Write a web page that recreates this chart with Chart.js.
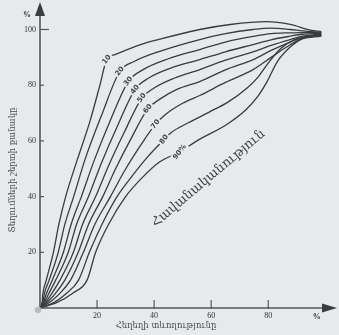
<!DOCTYPE html>
<html>
<head>
<meta charset="utf-8">
<script src="https://cdn.jsdelivr.net/npm/chart.js@4.4.1/dist/chart.umd.min.js"></script>
<style>
html,body{margin:0;padding:0;background:#e7e9eb;}
#wrap{width:339px;height:335px;}
</style>
</head>
<body>
<div id="wrap"><canvas id="c" width="339" height="335"></canvas></div>
<script>
// ---- data ----
const seriesNames = ['10','20','30','40','50','60','70','80','90%'];
const xTicks = [20,40,60,80];
const yTicks = [20,40,60,80,100];

const curve10 = [[0,0],[0.8,2.5],[1,5],[2.2,10],[4.7,20],[6.6,30],[9,40],[13,53],[17.5,67],[21,80],[23.4,89.2],[26.3,91],[35,94.5],[42,96.5],[56,100],[66.7,101.8],[79.6,102.8],[87.7,101.8],[94.7,99.8],[98.6,99.2]];
const curve20 = [[0,0],[1.1,2.5],[1.5,5],[3.2,10],[6.4,20],[8.7,30],[11.8,40],[16,54],[21.5,69],[28,85],[33,88.5],[43,92.5],[56,96.4],[65,98.5],[74.7,100],[81,100.5],[87.7,100],[92,99.5],[98.6,99]];
const curve30 = [[0,0],[1.4,2.5],[2.2,5],[4.3,10],[8.2,20],[10.9,30],[14.5,40],[19,53],[24.5,67],[31,81.4],[36,85.5],[45,89.5],[56,92.8],[65,95.5],[74.7,97.5],[81,98.5],[87.7,98.8],[92,98.9],[98.6,98.8]];
const curve40 = [[0,0],[1.8,2.5],[3,5],[5.5,10],[9.9,20],[12.8,30],[17,40],[21.5,52],[27,65],[33.3,78.4],[38,82.5],[46,86.2],[56,89.2],[65,92],[74.7,94.6],[81,96.3],[87.7,97.6],[92,98.3],[98.6,98.6]];
const curve50 = [[0,0],[2.3,2.5],[4,5],[7,10],[11.7,20],[14.9,30],[19.5,40],[24,51],[29.5,63],[35.7,75.4],[40,79],[47,82.5],[56,85.6],[65,89],[74.7,92],[81,94.3],[87.7,96.4],[92,97.6],[98.6,98.4]];
const curve60 = [[0,0],[3,2.5],[5.2,5],[8.7,10],[13.4,20],[17,30],[22,40],[26.5,50],[31.5,60],[37.8,71.5],[42,75],[48,78.5],[56,81.3],[65,85.5],[74.7,89.2],[81,92.5],[87.7,95.5],[92,97.2],[98.6,98.2]];
const curve70 = [[0,0],[4,2.5],[6.7,5],[10.7,10],[15.2,20],[19.2,30],[24.7,40],[29.5,49],[35,58],[40.5,66],[44,69.5],[50,73.5],[56,76.3],[65,81],[74.7,85.6],[81,90],[87.7,94.5],[92,96.8],[98.6,98]];
const curve80 = [[0,0],[5,2],[9,5],[13.5,10],[17.3,20],[21.7,30],[27,40],[32,47],[37.5,54],[43.5,60.5],[46,63],[52,66.5],[59.6,70.5],[66,74],[72.6,79],[76.5,83],[79.6,87.4],[84.2,93],[89,96.3],[98.6,97.8]];
const curve90 = [[0,0],[6,2],[11.6,5.4],[16.5,10],[19.5,20],[24,30],[30,40],[36,47],[42,52.5],[49,56],[55,60],[65.6,66],[72,71],[76,75.5],[79.6,81.3],[83.2,88.5],[87.5,93.5],[91.2,96.3],[98.6,97.6]];
const curves = [curve10,curve20,curve30,curve40,curve50,curve60,curve70,curve80,curve90];

// label anchor points on each curve (data units)
const labelX = [23.4,28,31,33.3,35.7,37.8,40.5,43.5,49];
const labelY = [89.2,85,81.4,78.4,75.4,71.5,66,60.5,56];

const yTitle = 'Տեղումների շերտի քանակը';
const xTitle = 'Հեղեղի տևողությունը';
const diagTitle = 'Հավանականություն';
const diagAnchor = [59, 46.5];

const BG = '#e7e9eb';
const INK = '#3a3b3e';

const decor = {
  id:'decor',
  beforeDraw(chart){
    const c = chart.ctx;
    c.save(); c.fillStyle = BG; c.fillRect(0,0,chart.width,chart.height); c.restore();
  },
  afterDatasetsDraw(chart){
    const c = chart.ctx, xs = chart.scales.x, ys = chart.scales.y;
    const x0 = xs.getPixelForValue(0), y0 = ys.getPixelForValue(0);
    c.save();
    c.strokeStyle = '#55585c'; c.fillStyle = '#3a3c3f'; c.lineWidth = 1.6;
    // y axis with arrow
    c.beginPath(); c.moveTo(x0, y0); c.lineTo(x0, 12); c.stroke();
    c.beginPath(); c.moveTo(x0, 2); c.lineTo(x0-5, 16); c.lineTo(x0+5, 16); c.closePath(); c.fill();
    // x axis with arrow
    c.beginPath(); c.moveTo(x0, y0); c.lineTo(326, y0); c.stroke();
    c.beginPath(); c.moveTo(337, y0); c.lineTo(322, y0-4.5); c.lineTo(322, y0+4.5); c.closePath(); c.fill();
    // ticks inward
    c.lineWidth = 1.2;
    yTicks.forEach(v=>{const p=ys.getPixelForValue(v); c.beginPath(); c.moveTo(x0,p); c.lineTo(x0+(v===100?9:4),p); c.stroke();});
    xTicks.forEach(v=>{const p=xs.getPixelForValue(v); c.beginPath(); c.moveTo(p,y0+1); c.lineTo(p,y0-8); c.stroke();});
    // origin dot
    c.fillStyle = '#b9bcc0'; c.beginPath(); c.arc(x0-2, y0+2, 3.2, 0, Math.PI*2); c.fill();
    // % marks
    c.fillStyle = '#333'; c.font = 'bold 8px "Liberation Serif", serif';
    c.textAlign='center'; c.textBaseline='middle';
    c.fillText('%', xs.getPixelForValue(97), y0+9);
    c.fillText('%', x0-13, 15);
    // curve labels
    c.font = 'bold 7px "DejaVu Sans", sans-serif';
    labelX.forEach((lx,i)=>{
      const px = xs.getPixelForValue(lx), py = ys.getPixelForValue(labelY[i]);
      const t = seriesNames[i];
      const w = c.measureText(t).width;
      c.save(); c.translate(px,py); c.rotate(-52*Math.PI/180);
      c.fillStyle = BG; c.fillRect(-w/2-1.5,-4.5,w+3,9);
      c.fillStyle = '#44474a'; c.fillText(t,0,0);
      c.restore();
    });
    // titles
    c.fillStyle = '#4a4c50';
    c.font = '8.5px "DejaVu Serif", "DejaVu Sans", serif';
    c.save(); c.translate(13, 170); c.rotate(-Math.PI/2); c.fillText(yTitle,0,0); c.restore();
    c.font = '8.5px "DejaVu Serif", "DejaVu Sans", serif';
    c.fillText(xTitle, 166, 326);
    c.fillStyle = '#3c3e42';
    c.font = '13px "DejaVu Serif", "DejaVu Sans", serif';
    c.save(); c.translate(xs.getPixelForValue(diagAnchor[0]), ys.getPixelForValue(diagAnchor[1]));
    c.rotate(-40*Math.PI/180); c.fillText(diagTitle,0,0); c.restore();
    c.restore();
  }
};

new Chart(document.getElementById('c'), {
  type:'line',
  data:{
    datasets: curves.map((pts,i)=>({
      label: seriesNames[i],
      data: pts.map(p=>({x:p[0], y:p[1]})),
      borderColor: INK, borderWidth: 1.3, pointRadius: 0,
      cubicInterpolationMode:'monotone', fill:false
    }))
  },
  options:{
    responsive:false, animation:false, devicePixelRatio:1,
    layout:{padding:{top:10,right:8,left:0,bottom:0}},
    plugins:{legend:{display:false}, tooltip:{enabled:false}},
    scales:{
      x:{type:'linear', min:0, max:102,
        afterFit(s){s.height=27;},
        afterBuildTicks(s){s.ticks = xTicks.map(v=>({value:v}));},
        grid:{display:false, drawTicks:false}, border:{display:false},
        ticks:{padding:3, color:'#333', font:{family:'"Liberation Serif", serif', size:8}}},
      y:{type:'linear', min:0, max:107,
        afterFit(s){s.width=40;},
        afterBuildTicks(s){s.ticks = yTicks.map(v=>({value:v}));},
        grid:{display:false, drawTicks:false}, border:{display:false},
        ticks:{padding:4, color:'#333', font:{family:'"Liberation Serif", serif', size:8}}}
    }
  },
  plugins:[decor]
});
</script>
</body>
</html>
